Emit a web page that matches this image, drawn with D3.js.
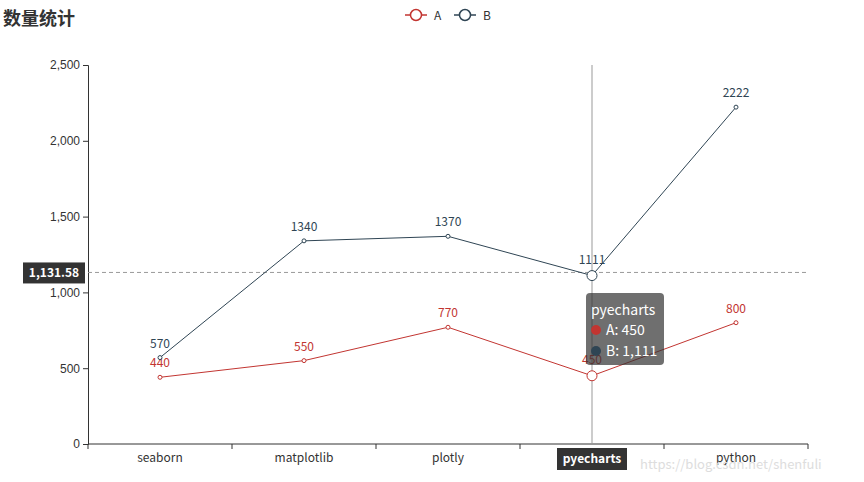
<!DOCTYPE html>
<html><head><meta charset="utf-8">
<script src="https://cdn.jsdelivr.net/npm/d3@7"></script>
<style>body{margin:0;background:#fff;}svg{display:block;font-family:"Microsoft YaHei","Noto Sans CJK SC",sans-serif;}</style>
</head><body><svg id="c" width="864" height="482"></svg>
<script>
const categories = ["seaborn","matplotlib","plotly","pyecharts","python"];
const seriesA = [440,550,770,450,800];
const seriesB = [570,1340,1370,1111,2222];
const yTicks = [0,500,1000,1500,2000,2500];
const seriesNames = ["A","B"];
const colors = ["#c23531","#2f4554"];
const hoverIndex = 3;
const pointerValue = 1131.58;

const svg = d3.select("#c");
const x = d3.scaleBand().domain(categories).range([88,808]);
const y = d3.scaleLinear().domain([0,2500]).range([444,65]);
const cx = d => x(d) + x.bandwidth()/2;

// title
svg.append("text").attr("x",3).attr("y",25).attr("font-size",18).attr("font-weight","bold").attr("fill","#333").text("数量统计");

// legend
const legX = [405,454];
seriesNames.forEach((n,i)=>{
  const g = svg.append("g").attr("transform",`translate(${legX[i]},15)`);
  g.append("line").attr("x1",0).attr("x2",22).attr("y1",0).attr("y2",0).attr("stroke",colors[i]).attr("stroke-width",1.5);
  g.append("circle").attr("cx",11).attr("cy",0).attr("r",5.5).attr("fill","#fff").attr("stroke",colors[i]).attr("stroke-width",1.5);
  g.append("text").attr("x",29).attr("y",4.5).attr("font-size",12).attr("fill","#333").text(n);
});

// axes
const yAxis = svg.append("g").attr("transform","translate(88,0)").call(d3.axisLeft(y).tickValues(yTicks).tickFormat(d3.format(",")).tickSizeOuter(0).tickSize(5));
yAxis.select(".domain").attr("stroke","#333");
yAxis.selectAll(".tick line").attr("stroke","#333");
yAxis.selectAll(".tick text").attr("fill","#333").attr("font-size",12).attr("x",-8).style("font-family","'Microsoft YaHei',sans-serif");

const xAxis = svg.append("g").attr("transform","translate(0,444)").call(d3.axisBottom(x).tickSizeOuter(0).tickSize(5).tickFormat(()=>""));
xAxis.select(".domain").attr("stroke","#333").attr("d","M88,0H808");
xAxis.selectAll(".tick").remove();
const bounds = [...categories.map(c=>x(c)), 808];
xAxis.selectAll("line.b").data(bounds).enter().append("line").attr("x1",d=>d).attr("x2",d=>d).attr("y1",0).attr("y2",5).attr("stroke","#333");
categories.forEach((c,i)=>{
  if(i===hoverIndex) return;
  svg.append("text").attr("x",cx(c)).attr("y",462).attr("text-anchor","middle").attr("font-size",12).attr("fill","#333").text(c);
});

// pointer lines
svg.append("line").attr("x1",cx(categories[hoverIndex])).attr("x2",cx(categories[hoverIndex])).attr("y1",65).attr("y2",444).attr("stroke","#999").attr("stroke-width",1);
svg.append("line").attr("x1",88).attr("x2",808).attr("y1",y(pointerValue)).attr("y2",y(pointerValue)).attr("stroke","#999").attr("stroke-dasharray","4,3");

// series
[seriesA,seriesB].forEach((data,si)=>{
  const line = d3.line().x((d,i)=>cx(categories[i])).y(d=>y(d));
  svg.append("path").attr("d",line(data)).attr("fill","none").attr("stroke",colors[si]).attr("stroke-width",1);
  data.forEach((v,i)=>{
    const hov = i===hoverIndex;
    svg.append("circle").attr("cx",cx(categories[i])).attr("cy",y(v)).attr("r",hov?5:2).attr("fill","#fff").attr("stroke",colors[si]).attr("stroke-width",1);
    svg.append("text").attr("x",cx(categories[i])).attr("y",y(v)-(hov?12:10)).attr("text-anchor","middle").attr("font-size",12).attr("fill",colors[si]).text(v);
  });
});

// y pointer label
const yl = y(pointerValue);
svg.append("rect").attr("x",23).attr("y",yl-10).attr("width",62).attr("height",21).attr("fill","#333");
svg.append("text").attr("x",54).attr("y",yl+4.5).attr("text-anchor","middle").attr("font-size",12).attr("font-weight","bold").attr("fill","#fff").text(d3.format(",.2f")(pointerValue));

// x pointer label
const hc = cx(categories[hoverIndex]);
svg.append("rect").attr("x",hc-35).attr("y",448).attr("width",70).attr("height",22).attr("fill","#333");
svg.append("text").attr("x",hc).attr("y",463).attr("text-anchor","middle").attr("font-size",12).attr("font-weight","bold").attr("fill","#fff").text(categories[hoverIndex]);

// tooltip
const tg = svg.append("g").attr("transform",`translate(${hc-6},293)`);
tg.append("rect").attr("width",78).attr("height",72).attr("rx",4).attr("fill","rgba(50,50,50,0.7)");
tg.append("text").attr("x",5).attr("y",22).attr("font-size",14).attr("fill","#fff").text(categories[hoverIndex]);
[seriesA,seriesB].forEach((data,si)=>{
  tg.append("circle").attr("cx",10).attr("cy",37+si*21).attr("r",5).attr("fill",colors[si]);
  tg.append("text").attr("x",20).attr("y",42+si*21).attr("font-size",14).attr("fill","#fff").text(seriesNames[si]+": "+d3.format(",")(data[hoverIndex]));
});

// watermark
svg.append("text").attr("x",640).attr("y",469).attr("font-size",13).attr("fill","#ddd").text("https://blog.csdn.net/shenfuli");
</script></body></html>
